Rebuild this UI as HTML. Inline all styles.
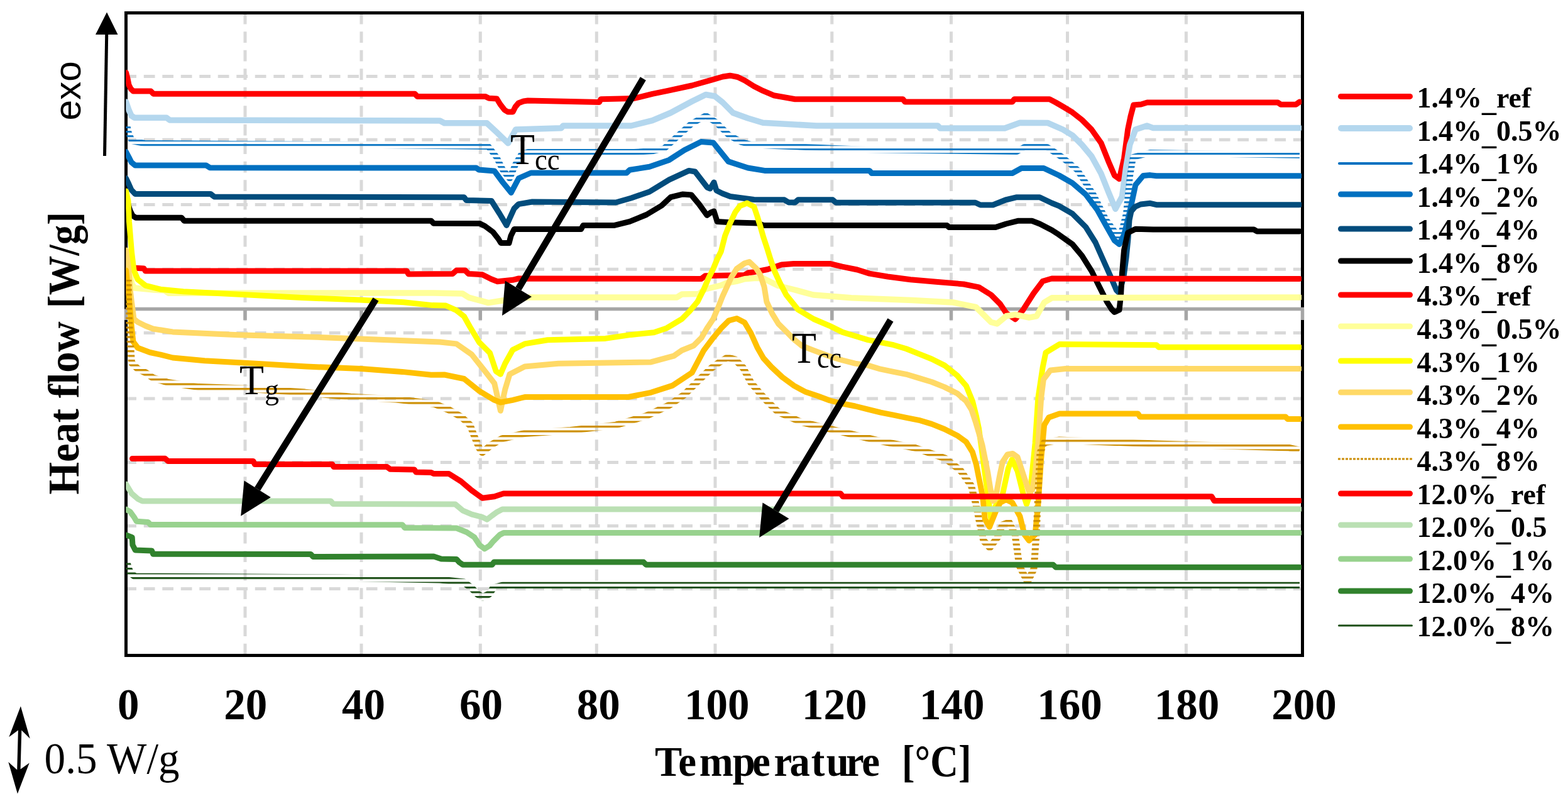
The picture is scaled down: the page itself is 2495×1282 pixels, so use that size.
<!DOCTYPE html>
<html><head><meta charset="utf-8"><title>DSC heat flow</title>
<style>
html,body{margin:0;padding:0;background:#fff;overflow:hidden;width:2495px;height:1282px;}
svg{display:block;}
.serif{font-family:"Liberation Serif","Times New Roman",serif;}
.sans{font-family:"Liberation Sans",Arial,sans-serif;}
</style></head><body>
<svg width="2495" height="1282" viewBox="0 0 2495 1282">
<defs>
<pattern id="hb" patternUnits="userSpaceOnUse" x="0" y="5.2" width="20" height="7"><rect x="0" y="0" width="20" height="2.8" fill="#0070C0"/></pattern>
<pattern id="hg" patternUnits="userSpaceOnUse" x="0" y="2" width="20" height="7.5"><rect x="0" y="0" width="20" height="3.2" fill="#CC8E00"/></pattern>
<pattern id="hd" patternUnits="userSpaceOnUse" x="0" y="3" width="20" height="7.5"><rect x="0" y="0" width="20" height="3" fill="#1A4D14"/></pattern>
<clipPath id="pa"><rect x="200.3" y="0" width="1870.7" height="1282"/></clipPath>
</defs>
<rect x="0" y="0" width="2495" height="1282" fill="#fff"/>
<g stroke="#D9D9D9" stroke-width="5" stroke-dasharray="17.7 11.8" fill="none">
<line x1="390" y1="20.7" x2="390" y2="1040" />
<line x1="575" y1="20.7" x2="575" y2="1040" />
<line x1="764.3" y1="20.7" x2="764.3" y2="1040" />
<line x1="949.3" y1="20.7" x2="949.3" y2="1040" />
<line x1="1138" y1="20.7" x2="1138" y2="1040" />
<line x1="1323.8" y1="20.7" x2="1323.8" y2="1040" />
<line x1="1513.5" y1="20.7" x2="1513.5" y2="1040" />
<line x1="1698.5" y1="20.7" x2="1698.5" y2="1040" />
<line x1="1887.4" y1="20.7" x2="1887.4" y2="1040" />
<line x1="199.3" y1="121.5" x2="2070" y2="121.5" />
<line x1="199.3" y1="222.3" x2="2070" y2="222.3" />
<line x1="199.3" y1="325.5" x2="2070" y2="325.5" />
<line x1="199.3" y1="428.3" x2="2070" y2="428.3" />
<line x1="199.3" y1="529.4" x2="2070" y2="529.4" />
<line x1="199.3" y1="633.9" x2="2070" y2="633.9" />
<line x1="199.3" y1="735.5" x2="2070" y2="735.5" />
<line x1="199.3" y1="836.6" x2="2070" y2="836.6" />
<line x1="199.3" y1="936.6" x2="2070" y2="936.6" />
</g>
<rect x="200.5" y="20.5" width="1872" height="1022" fill="none" stroke="#000" stroke-width="5"/>
<g stroke="#A6A6A6" stroke-width="5.5" fill="none"><line x1="200" y1="491.5" x2="2075" y2="491.5" /><line x1="200.5" y1="491.5" x2="200.5" y2="509" /><line x1="390" y1="491.5" x2="390" y2="509" /><line x1="575" y1="491.5" x2="575" y2="509" /><line x1="764.3" y1="491.5" x2="764.3" y2="509" /><line x1="949.3" y1="491.5" x2="949.3" y2="509" /><line x1="1138" y1="491.5" x2="1138" y2="509" /><line x1="1323.8" y1="491.5" x2="1323.8" y2="509" /><line x1="1513.5" y1="491.5" x2="1513.5" y2="509" /><line x1="1698.5" y1="491.5" x2="1698.5" y2="509" /><line x1="1887.4" y1="491.5" x2="1887.4" y2="509" /><line x1="2072.5" y1="491.5" x2="2072.5" y2="509" /></g>
<g clip-path="url(#pa)">
<path d="M200.5 115.5 L203 125 L205 135 L208 141 L212 145 L240 145 L244 149.2 L660 149.2 L664 153.4 L772 153.4 L778 156.3 L790.5 157 L796 166 L803 175 L808 178 L816 178 L820 170 L825 164 L833 161 L840 160 L953.6 162.5 L956 157.7 L1009 156.5 L1038 149.3 L1062.4 144.4 L1101 136 L1135 126.3 L1150 122 L1161.6 120.2 L1173.7 122.5 L1185 128 L1199.7 137.2 L1214 144.4 L1231 151.7 L1265 157.7 L1436.7 157.7 L1440 162 L1610.8 162 L1614 157.7 L1670 157.7 L1680 163 L1691.2 169.5 L1706.4 178.7 L1721.7 190.8 L1736.9 206 L1752 227.3 L1764.2 257.7 L1773.4 279 L1781 284.5 L1788.6 251.7 L1794.6 206 L1799 185 L1803.8 167 L1815.7 166 L1825.4 163 L2033.3 163 L2038 166.2 L2062 166.2 L2068 162" fill="none" stroke="#FF0000" stroke-width="9" stroke-linejoin="round" stroke-linecap="round"/>
<path d="M200.5 162 L205 175 L209 184 L214 187.3 L265 187.3 L270 191 L700 192 L707 195.7 L774.6 195.7 L790 210 L808.5 227.8 L814 218 L820.6 206 L893 203.7 L896 200 L1004.4 200 L1038 191.6 L1067 179.5 L1101 161.3 L1123 150.5 L1137.4 153 L1150 163 L1166.4 179.5 L1190 188 L1214 195.2 L1298.8 200 L1492.3 200 L1496 204 L1598.7 204 L1622.9 195.2 L1666.9 195.4 L1691.2 206 L1706.4 215.2 L1721.7 230.4 L1736.9 248.6 L1752 276 L1764.2 306.4 L1774.9 332.3 L1785.5 312.5 L1791.6 266.9 L1797.7 230.4 L1806.8 206 L1825 200 L1835 203.6 L2068 203.6" fill="none" stroke="#B4D7EE" stroke-width="9.5" stroke-linejoin="round" stroke-linecap="round"/>
<path d="M202 199 L205 212 L210 224 L230 228 L520 230 L777 233 L790 250 L800 270 L811 283.5 L820 262 L830 245 L840 242 L1009 242 L1040 240 L1057 236 L1080 215 L1100 197 L1123 184 L1140 195 L1160 215 L1180 226 L1195 230 L1233 232 L1378 238 L1618 241 L1630 234 L1666 234 L1690 250 L1714 270 L1740 310 L1760 350 L1782 380 L1792 340 L1798 280 L1803 250 L1830 243 L2068 246.7" fill="none" stroke="url(#hb)" stroke-width="10" stroke-linejoin="round" stroke-linecap="butt"/>
<path d="M200.5 241.5 L205 250 L209 258 L215 262.9 L328 262.9 L334 266.8 L757.7 267 L762 270 L786.7 272 L800 290 L813.3 306.4 L825.4 283.5 L844.8 275 L997 275 L1002 270.2 L1033.4 265.3 L1064.8 254.4 L1089 238.7 L1115.6 225.4 L1135 227 L1159 256.9 L1190 267 L1216.6 271.4 L1383.5 271.4 L1387 275.5 L1610.8 275.5 L1625.3 267.5 L1660.8 267.5 L1685.2 279 L1706.4 291.2 L1727.7 309.4 L1746 333.8 L1761.2 361.1 L1773.4 382.4 L1781 388.5 L1788.6 373.3 L1797.7 336.8 L1806.8 294.2 L1819 279.5 L1830.2 278.6 L1840 279.8 L2068 279.8" fill="none" stroke="#0070C0" stroke-width="9" stroke-linejoin="round" stroke-linecap="round"/>
<path d="M200.5 283.6 L205 293 L209 302 L215 308.4 L335 308.4 L341 313 L738.4 313.7 L742 318.5 L782 319.5 L795 340 L806 358.4 L818 331.8 L825.4 324.6 L847 321 L980 322 L1004.4 315 L1033.4 305 L1064.8 285.9 L1096.3 271.4 L1106 273 L1125.3 298 L1130 300 L1136 290 L1140 303 L1149.5 307.7 L1162 312.5 L1199.8 317.5 L1248 317.8 L1255 322 L1265 322 L1270 317.8 L1325 317.8 L1330 322.2 L1552 322.2 L1560 326 L1580 326 L1600 318 L1618 313.7 L1654.3 313.7 L1673.7 323 L1685.2 327.7 L1706.4 339.9 L1727.7 361.1 L1743 385.5 L1755.1 412.8 L1767.3 440.2 L1776.4 461.5 L1781 466 L1788 440 L1792 410 L1795 380 L1797 350 L1800 336 L1806 329 L1815 325 L1830.2 323.3 L1840 325.7 L2068 325.7" fill="none" stroke="#014C7C" stroke-width="9" stroke-linejoin="round" stroke-linecap="round"/>
<path d="M203 322 L207 335 L211 343 L216 346.3 L289 346.3 L293 351.2 L686 351.2 L690 355.3 L763 355.4 L771.5 359.5 L784.4 369 L793 380 L797 386.5 L810 386.5 L813 375 L818.2 364.5 L924.6 364.5 L928 358.4 L977.8 358.4 L1002 352.4 L1028.6 341.5 L1052.8 327 L1067 313.7 L1086.6 308.9 L1100 310 L1112.5 325 L1125 342.4 L1131 338 L1136 336 L1141.2 352.4 L1162.4 353.7 L1206 355 L1214.8 358.4 L1506.8 358.4 L1510 361.5 L1584.2 361.5 L1601 356 L1620.5 351.2 L1642 351.2 L1654.3 356 L1673.7 366 L1685 373.3 L1706.4 388.5 L1721.7 406.8 L1736.9 431.1 L1749 455.4 L1761.2 479.8 L1769 492 L1773.4 496.5 L1781 493 L1783.5 470 L1785.5 434.1 L1788.6 397.6 L1794.6 370.3 L1806.8 364.2 L1835 365 L1995 365 L2000 367.9 L2068 367.9" fill="none" stroke="#000000" stroke-width="9" stroke-linejoin="round" stroke-linecap="round"/>
<path d="M215.6 426.3 L228.9 427 L231.3 431.1 L647.2 431.1 L650 436 L720 435.6 L726.3 430 L740 430 L745.6 435.6 L767.4 436.7 L781.9 444 L791.6 447.7 L815.8 445.3 L825.4 443 L1116 443.4 L1122 438.7 L1184.8 437.4 L1191 433.7 L1200 432.7 L1221.4 428.5 L1243.5 421 L1262.6 419.5 L1320.6 419.4 L1340 424.2 L1364.1 429 L1383.5 435.1 L1412.5 440 L1448.8 444.8 L1492.3 448.4 L1533.4 452 L1557.6 456.9 L1577 469 L1591.4 483.5 L1601.1 498 L1615.6 507.7 L1627.7 493.1 L1644.7 466.5 L1659.2 447.2 L1673.7 443 L2068 443.5" fill="none" stroke="#FF0000" stroke-width="9" stroke-linejoin="round" stroke-linecap="round"/>
<path d="M208 440 L210 452 L214 458 L245 461 L262 462 L268 466.2 L690 465.9 L736 467 L745.6 473.1 L777 481.6 L800 478 L840 473.1 L1077 473.1 L1085 468 L1112 467.4 L1122 460 L1147 454 L1157 450 L1172 447.4 L1185 443.7 L1200 442.4 L1214 442.4 L1238.4 454.5 L1262.6 460.5 L1294 469 L1354.4 473.8 L1451.2 477.4 L1516.5 481 L1552.8 488.3 L1577 512.5 L1586.6 514.9 L1601.1 502.8 L1615.6 500.4 L1637.4 505.2 L1649.5 502.8 L1661.6 481 L1673.7 473.8 L2068 473" fill="none" stroke="#FFFF99" stroke-width="9.5" stroke-linejoin="round" stroke-linecap="round"/>
<path d="M200.5 304 L204 320 L205.5 352.5 L209.5 401 L213 430 L219.2 444.4 L231.3 454.1 L255.5 460.2 L291.7 463.8 L386 468.6 L480.4 473.5 L572.3 477.1 L642.4 480.7 L688.3 485.6 L709.3 486 L726.3 493.7 L738.4 503.3 L748 520.3 L762.5 544.5 L779.5 561.4 L789.2 590.4 L796.4 595.2 L803.7 578.3 L815.8 556.5 L835 546.9 L871.4 540.8 L963.3 538.4 L1004.4 532.4 L1040.7 528.7 L1060 522.3 L1072.5 514.8 L1085 507.3 L1097.4 494.8 L1109.9 479.9 L1119.9 459.9 L1127.4 442.4 L1134.9 427.5 L1141.1 412.5 L1147.3 400 L1153.7 374.9 L1161.2 356.2 L1170 337.4 L1177.4 327.5 L1188.6 323.1 L1199.8 328.7 L1204.8 343.7 L1209.8 359.9 L1214.8 377.4 L1221 396.1 L1226 412.3 L1232.3 431 L1241 449.8 L1251 469 L1269.8 492.5 L1294.8 507.5 L1320.3 518.3 L1340.6 528.4 L1360.8 534.5 L1381.1 540.6 L1401.4 544.6 L1421.7 548.7 L1442 554.8 L1462.2 562.9 L1482.5 571 L1502.8 581.1 L1523.1 597.3 L1537.3 613.6 L1547.4 637.9 L1553.5 662.2 L1557.6 682 L1562.4 717.2 L1567.3 753.5 L1572.1 789.7 L1576.9 826 L1584.2 805 L1595.4 786 L1604.3 745 L1610.2 731 L1619 749 L1628 785 L1633.5 802 L1639 785 L1647.1 705.1 L1651.9 632.6 L1659.2 584.2 L1664 560.9 L1685.8 547.6 L1840 548.7 L1844 552.3 L2068 552.3" fill="none" stroke="#FFFF00" stroke-width="9" stroke-linejoin="round" stroke-linecap="round"/>
<path d="M200.5 398 L205 430 L207 460 L209.5 480.7 L213 507.3 L219.2 512.2 L231.3 518.2 L243.4 523 L274.8 527.9 L378.8 532.7 L504.6 536.3 L630.3 541.2 L700 544 L726.3 546.9 L750.5 563.8 L769.8 588 L786.7 609.7 L791.6 631.5 L796.4 653.3 L803.7 619.4 L811 595.2 L835 583.1 L888.3 578.3 L1035.8 575.9 L1072 566.2 L1085 557.2 L1103.7 549.7 L1116.2 537.3 L1124.9 522.3 L1134.9 507.3 L1142.4 489.8 L1149.8 471.1 L1157.3 454.9 L1163.6 441.2 L1172.3 427.5 L1184.8 418.7 L1192.3 416.5 L1203.6 427.3 L1209.8 437.3 L1216 456 L1219.9 480 L1228.6 498.7 L1238.6 515 L1251.1 527.4 L1263.6 540 L1276 550 L1294.8 557.4 L1320.3 566.9 L1340.6 573 L1360.8 578.1 L1381.1 581.1 L1401.4 587.2 L1421.7 591.3 L1442 595.3 L1462.2 601.4 L1482.5 607.5 L1502.8 615.6 L1523.1 625.7 L1537.3 637.9 L1546 652 L1552 670 L1558 690 L1563 708 L1567 728 L1572 753 L1576 778 L1580 797 L1583 795 L1586.5 779 L1591 755 L1595.4 734.4 L1603 723 L1611.3 721.5 L1619 727 L1625 745 L1632.6 768 L1638 784 L1643 778 L1647.1 753.5 L1651.9 705.1 L1656.7 632.6 L1660.4 603.5 L1671.3 589 L1695 586.5 L2068 586.5" fill="none" stroke="#FFD966" stroke-width="9" stroke-linejoin="round" stroke-linecap="round"/>
<path d="M200.5 430 L205 470 L209.5 521.8 L212 543.6 L219.2 553.3 L238.5 560.5 L255.5 564.2 L274.8 569 L325.6 573.8 L403 578.1 L487.6 583 L574.7 586.6 L640 591.4 L686 596.3 L707 596 L738.4 602.5 L762.5 621.8 L786.7 636.3 L796.4 640 L815.8 636.3 L835 631.5 L999.6 631.5 L1035.8 624.3 L1069.7 613.4 L1101 592.8 L1119.9 557.2 L1134.9 537.3 L1147.3 522.3 L1159.8 509.8 L1172.3 506.5 L1184.8 513 L1194.9 530 L1204.9 552.4 L1214.9 569.9 L1227.4 583.6 L1244.8 599.9 L1263.6 613.6 L1282.3 623.6 L1301 629.8 L1320.3 637 L1340.6 642 L1360.8 646 L1381.1 651.1 L1401.4 656.2 L1421.7 660.2 L1442 664.3 L1462.2 668.3 L1482.5 674.4 L1502.8 682.5 L1523.1 692.7 L1537.3 702.8 L1547.4 719 L1553.5 739.3 L1557.6 760 L1563.6 789.7 L1567.3 826 L1574.5 838.1 L1584.2 814 L1591.5 799.4 L1601.1 794.6 L1610.8 799.4 L1622.9 821.2 L1630.1 850.2 L1637.4 859.9 L1647.1 850.2 L1651.9 801.8 L1656.7 729.3 L1661.6 676.1 L1668.8 664 L1685.8 658 L1810.7 657.9 L1814 663 L2045.5 663 L2049 666.6 L2068 666.6" fill="none" stroke="#FFC000" stroke-width="9" stroke-linejoin="round" stroke-linecap="round"/>
<path d="M204 445 L205 500 L207 540 L209.5 577 L219.2 586.6 L231.3 592.6 L243.4 601.1 L267.6 608.4 L315.9 615.6 L388.5 618 L485.2 624.1 L557.8 631.3 L630.3 635 L690.8 642.2 L714.2 651.9 L733.5 662.8 L748 676.1 L755.3 695.4 L762.5 712.4 L767.4 719.6 L781.9 707.5 L798.8 697.8 L835.1 689.4 L907.7 684.5 L980.2 676.1 L1028.6 661.6 L1064.8 644.6 L1089 627.7 L1113.2 603.5 L1132.5 584.9 L1145 576.1 L1157.5 568.6 L1170 572 L1182.4 584.9 L1194.9 608.6 L1207.4 623.6 L1219.9 637.3 L1238.4 655.5 L1274.6 671.2 L1335.1 685.8 L1395.6 700.3 L1456 712.4 L1504.4 729.3 L1528.6 748.6 L1545.5 772.8 L1552.8 801.8 L1557.6 826 L1565 860 L1575 871 L1587 855 L1595 835 L1606 831 L1615 850 L1622 900 L1635 925.5 L1645 905 L1649 850 L1652 780 L1655 720 L1661.6 703.9 L1685.8 700 L1840 706 L2050 712 L2068 716" fill="none" stroke="url(#hg)" stroke-width="11" stroke-linejoin="round" stroke-linecap="butt"/>
<path d="M210.5 729.5 L262.7 729.3 L267.6 733.6 L403 733.6 L405.4 738.5 L528.7 738.5 L531 742.6 L615.8 742.6 L620.6 746.2 L659.3 747 L662 751 L686 751.5 L690 753.5 L714.2 753.5 L733.5 765.6 L750.5 780 L767.4 792.2 L786.7 789.7 L801.2 784.9 L1337.5 784.9 L1341 789.7 L1928 789.7 L1932 796.4 L2068 796.4" fill="none" stroke="#FF0000" stroke-width="9" stroke-linejoin="round" stroke-linecap="round"/>
<path d="M200.5 770 L209.5 785 L219.2 793.4 L226.4 797 L526.3 797 L530 801.4 L724.4 802 L736.5 812.1 L750.7 818.2 L766.9 822.3 L775 826.3 L783.1 820 L791.2 814.2 L799.3 810.1 L2068 809.8" fill="none" stroke="#BAE0B3" stroke-width="9" stroke-linejoin="round" stroke-linecap="round"/>
<path d="M200.5 810 L207.1 814 L213.2 822.3 L217.3 829.3 L235.5 830.4 L239.5 834.6 L640.3 834.8 L644 839.4 L726.4 840 L742.6 846.5 L754.8 854.6 L762.9 866.8 L771 872.9 L779 868 L785.1 860.7 L795.2 850.6 L801.3 847.6 L2068 847.6" fill="none" stroke="#98D28E" stroke-width="9" stroke-linejoin="round" stroke-linecap="round"/>
<path d="M200.5 851 L210.2 854.6 L211 866.8 L215.2 874.9 L241.5 875.9 L243.6 881.2 L494.5 881.4 L498 885.4 L690 885 L702.1 889 L726.4 889.5 L730.5 894.1 L736.5 898.2 L783.1 898.2 L786 894.1 L1024 894.1 L1028 898.2 L1675.7 898.2 L1680 902.2 L2068 902.2" fill="none" stroke="#31822D" stroke-width="9" stroke-linejoin="round" stroke-linecap="round"/>
<path d="M202 895 L205 905 L208 912 L215 917 L540 919 L700 922 L738 926 L750 935 L760 945 L768 950 L778 945 L785 935 L800 931 L2068 931" fill="none" stroke="url(#hd)" stroke-width="11" stroke-linejoin="round" stroke-linecap="butt"/>
</g>
<line x1="1023.3" y1="125" x2="824.9" y2="459.2" stroke="#000" stroke-width="10.5"/><polygon points="799,502 803.7,446.5 846,472" fill="#000"/>
<line x1="598" y1="476" x2="409.6" y2="777.7" stroke="#000" stroke-width="10.5"/><polygon points="383.2,820.7 388.5,764.4 430.8,791" fill="#000"/>
<line x1="1417" y1="509" x2="1234.5" y2="812.2" stroke="#000" stroke-width="10.5"/><polygon points="1208.2,855 1213.5,799.5 1255.5,825" fill="#000"/>
<line x1="166.5" y1="248" x2="169.8" y2="50" stroke="#000" stroke-width="5"/>
<polygon points="170,19.5 152,55 187.5,55" fill="#000"/>
<path d="M32.9 1123.3 L47.7 1174.7 L34.3 1161.5 L32.6 1223.5 L46.7 1213.4 L27.9 1262.5 L13.3 1212 L27.2 1224.5 L28.9 1161.5 L14.3 1172.3 Z" fill="#000"/>
<g class="serif" fill="#000">
<text x="812" y="260.5" font-size="69" textLength="39" lengthAdjust="spacingAndGlyphs">T</text><text x="851" y="270.2" font-size="47.5" textLength="39.5" lengthAdjust="spacingAndGlyphs">cc</text>
<text x="1260" y="576.6" font-size="69" textLength="39" lengthAdjust="spacingAndGlyphs">T</text><text x="1300" y="585" font-size="47.5" textLength="39" lengthAdjust="spacingAndGlyphs">cc</text>
<text x="381" y="626.5" font-size="68" textLength="39" lengthAdjust="spacingAndGlyphs">T</text><text x="421" y="635" font-size="46">g</text>
</g>
<text class="sans" transform="translate(128.3,191.6) rotate(-90)" font-size="58.5" fill="#000">exo</text>
<text class="serif" transform="translate(124.5,786.8) rotate(-90)" font-size="69" font-weight="bold" fill="#000" textLength="275.5" lengthAdjust="spacingAndGlyphs">Heat flow</text>
<text class="serif" transform="translate(124.5,490.3) rotate(-90)" font-size="69" font-weight="bold" fill="#000" textLength="153.2" lengthAdjust="spacingAndGlyphs">[W/g]</text>
<g class="serif" font-size="69" font-weight="bold" fill="#000"><text x="204.2" y="1143.5" text-anchor="middle">0</text><text x="390.8" y="1143.5" text-anchor="middle">20</text><text x="578.6" y="1143.5" text-anchor="middle">40</text><text x="765.5" y="1143.5" text-anchor="middle">60</text><text x="952.3" y="1143.5" text-anchor="middle">80</text><text x="1140.7" y="1143.5" text-anchor="middle">100</text><text x="1327.8" y="1143.5" text-anchor="middle">120</text><text x="1514.7" y="1143.5" text-anchor="middle">140</text><text x="1702" y="1143.5" text-anchor="middle">160</text><text x="1888.6" y="1143.5" text-anchor="middle">180</text><text x="2075" y="1143.5" text-anchor="middle">200</text></g>
<text class="serif" x="1042" y="1234" font-size="68" font-weight="bold" fill="#000" textLength="358" lengthAdjust="spacingAndGlyphs" dx="0 0 5 -1 -5 6 -4 2 2.6 -5.1 -2.5">Temperature</text>
<text class="serif" x="1435" y="1235" font-size="71" font-weight="bold" fill="#000" textLength="110.5" lengthAdjust="spacingAndGlyphs">[°C]</text>
<text class="serif" x="70.6" y="1229.5" font-size="69" fill="#000" textLength="215" lengthAdjust="spacingAndGlyphs">0.5 W/g</text>
<g><line x1="2133.5" y1="153.4" x2="2243.5" y2="153.4" stroke="#FF0000" stroke-width="9" stroke-linecap="round"/>
<text x="2254.5" y="171.1" class="serif" font-size="46" font-weight="bold" fill="#000">1.4%<tspan dy="6">_</tspan><tspan dy="-6">ref</tspan></text>
<line x1="2134" y1="204" x2="2243" y2="204" stroke="#B4D7EE" stroke-width="10" stroke-linecap="round"/>
<text x="2254.5" y="223.6" class="serif" font-size="46" font-weight="bold" fill="#000">1.4%<tspan dy="6">_</tspan><tspan dy="-6">0.5%</tspan></text>
<line x1="2131" y1="260" x2="2246" y2="260" stroke="#0070C0" stroke-width="4" stroke-linecap="round"/>
<text x="2254.5" y="276.2" class="serif" font-size="46" font-weight="bold" fill="#000">1.4%<tspan dy="6">_</tspan><tspan dy="-6">1%</tspan></text>
<line x1="2133.5" y1="309" x2="2243.5" y2="309" stroke="#0070C0" stroke-width="9" stroke-linecap="round"/>
<text x="2254.5" y="328.8" class="serif" font-size="46" font-weight="bold" fill="#000">1.4%<tspan dy="6">_</tspan><tspan dy="-6">2%</tspan></text>
<line x1="2133.5" y1="364" x2="2243.5" y2="364" stroke="#014C7C" stroke-width="9" stroke-linecap="round"/>
<text x="2254.5" y="381.3" class="serif" font-size="46" font-weight="bold" fill="#000">1.4%<tspan dy="6">_</tspan><tspan dy="-6">4%</tspan></text>
<line x1="2133.5" y1="415" x2="2243.5" y2="415" stroke="#000000" stroke-width="9" stroke-linecap="round"/>
<text x="2254.5" y="433.9" class="serif" font-size="46" font-weight="bold" fill="#000">1.4%<tspan dy="6">_</tspan><tspan dy="-6">8%</tspan></text>
<line x1="2133.5" y1="469" x2="2243.5" y2="469" stroke="#FF0000" stroke-width="9" stroke-linecap="round"/>
<text x="2254.5" y="486.4" class="serif" font-size="46" font-weight="bold" fill="#000">4.3%<tspan dy="6">_</tspan><tspan dy="-6">ref</tspan></text>
<line x1="2133.5" y1="519" x2="2243.5" y2="519" stroke="#FFFF99" stroke-width="9" stroke-linecap="round"/>
<text x="2254.5" y="538.9" class="serif" font-size="46" font-weight="bold" fill="#000">4.3%<tspan dy="6">_</tspan><tspan dy="-6">0.5%</tspan></text>
<line x1="2133.5" y1="574" x2="2243.5" y2="574" stroke="#FFFF00" stroke-width="9" stroke-linecap="round"/>
<text x="2254.5" y="591.5" class="serif" font-size="46" font-weight="bold" fill="#000">4.3%<tspan dy="6">_</tspan><tspan dy="-6">1%</tspan></text>
<line x1="2133.5" y1="624" x2="2243.5" y2="624" stroke="#FFD966" stroke-width="9" stroke-linecap="round"/>
<text x="2254.5" y="644" class="serif" font-size="46" font-weight="bold" fill="#000">4.3%<tspan dy="6">_</tspan><tspan dy="-6">2%</tspan></text>
<line x1="2133.5" y1="679" x2="2243.5" y2="679" stroke="#FFC000" stroke-width="9" stroke-linecap="round"/>
<text x="2254.5" y="696.6" class="serif" font-size="46" font-weight="bold" fill="#000">4.3%<tspan dy="6">_</tspan><tspan dy="-6">4%</tspan></text>
<line x1="2129" y1="730" x2="2248" y2="730" stroke="#CC8E00" stroke-width="3" stroke-dasharray="4 2"/>
<text x="2254.5" y="749.1" class="serif" font-size="46" font-weight="bold" fill="#000">4.3%<tspan dy="6">_</tspan><tspan dy="-6">8%</tspan></text>
<line x1="2133.5" y1="785" x2="2243.5" y2="785" stroke="#FF0000" stroke-width="9" stroke-linecap="round"/>
<text x="2254.5" y="801.7" class="serif" font-size="46" font-weight="bold" fill="#000">12.0%<tspan dy="6">_</tspan><tspan dy="-6">ref</tspan></text>
<line x1="2133.5" y1="835" x2="2243.5" y2="835" stroke="#BAE0B3" stroke-width="9" stroke-linecap="round"/>
<text x="2254.5" y="854.2" class="serif" font-size="46" font-weight="bold" fill="#000">12.0%<tspan dy="6">_</tspan><tspan dy="-6">0.5</tspan></text>
<line x1="2133.5" y1="889" x2="2243.5" y2="889" stroke="#98D28E" stroke-width="9" stroke-linecap="round"/>
<text x="2254.5" y="906.8" class="serif" font-size="46" font-weight="bold" fill="#000">12.0%<tspan dy="6">_</tspan><tspan dy="-6">1%</tspan></text>
<line x1="2133.5" y1="940" x2="2243.5" y2="940" stroke="#31822D" stroke-width="9" stroke-linecap="round"/>
<text x="2254.5" y="959.4" class="serif" font-size="46" font-weight="bold" fill="#000">12.0%<tspan dy="6">_</tspan><tspan dy="-6">4%</tspan></text>
<line x1="2130.5" y1="995" x2="2246.5" y2="995" stroke="#1A4D14" stroke-width="3" stroke-linecap="round"/>
<text x="2254.5" y="1011.9" class="serif" font-size="46" font-weight="bold" fill="#000">12.0%<tspan dy="6">_</tspan><tspan dy="-6">8%</tspan></text></g>
</svg>
</body></html>
